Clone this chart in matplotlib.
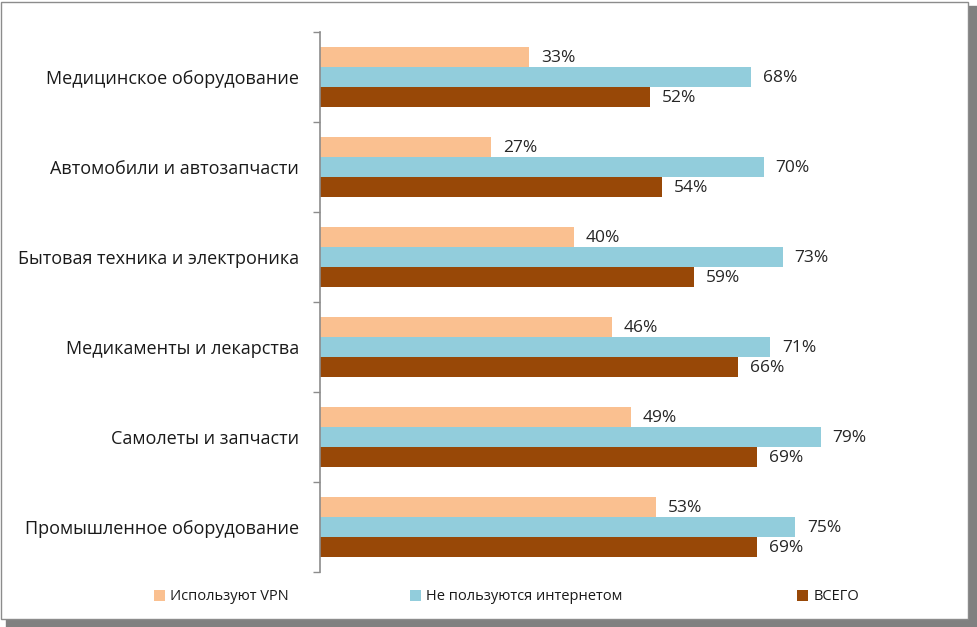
import matplotlib.pyplot as plt
import matplotlib.patches as mpatches
import numpy as np

plt.rcParams['font.family'] = ['Open Sans', 'DejaVu Sans']

categories = ['Медицинское оборудование', 'Автомобили и автозапчасти',
              'Бытовая техника и электроника', 'Медикаменты и лекарства',
              'Самолеты и запчасти', 'Промышленное оборудование']
vpn = [33, 27, 40, 46, 49, 53]
no_internet = [68, 70, 73, 71, 79, 75]
total = [52, 54, 59, 66, 69, 69]
series_names = ['Используют VPN', 'Не пользуются интернетом', 'ВСЕГО']
colors = ['#FAC090', '#92CDDC', '#984807']

W, H = 977, 627
fig = plt.figure(figsize=(W / 100, H / 100), dpi=100)

# рамка с тенью
fig.patches.append(mpatches.Rectangle((6 / W, 0), 1 - 6 / W, 1 - 6 / H,
                                      transform=fig.transFigure, color='#808080', zorder=-2))
fig.patches.append(mpatches.Rectangle((1 / W, 8 / H), 1 - 10 / W, 1 - 10 / H,
                                      transform=fig.transFigure, facecolor='white',
                                      edgecolor='#8c8c8c', linewidth=1, zorder=-1))

ax = fig.add_axes([320 / W, 1 - 572 / H, 637 / W, 540 / H])
ax.set_facecolor('none')

y = np.arange(len(categories))
h = 0.222
bars = []
for i, (vals, col) in enumerate(zip([vpn, no_internet, total], colors)):
    b = ax.barh(y + (i - 1) * h, vals, height=h, color=col, label=series_names[i])
    bars.append(b)
    for rect, v in zip(b, vals):
        ax.annotate(f'{v}%', (rect.get_width(), rect.get_y() + rect.get_height() / 2),
                    xytext=(8.5, -0.5), textcoords='offset points', va='center', ha='left',
                    fontsize=12.5, color='#262626')

ax.set_xlim(0, 100.5)
ax.set_ylim(len(categories) - 0.5, -0.5)
ax.set_yticks(np.arange(len(categories) + 1) - 0.5)
ax.set_yticklabels([])
ax.set_yticks(y, minor=True)
ax.set_yticklabels(categories, minor=True, fontsize=13, color='#1a1a1a')
ax.tick_params(axis='y', which='minor', length=0, pad=15)
ax.tick_params(axis='y', which='major', length=5, color='#8c8c8c', width=1)
ax.set_xticks([])
for s in ['top', 'right', 'bottom']:
    ax.spines[s].set_visible(False)
ax.spines['left'].set_color('#8c8c8c')
ax.spines['left'].set_linewidth(1.2)

# легенда: три отдельных элемента, как в Excel
leg_x = [147, 403, 790]
for b, name, x in zip(bars, series_names, leg_x):
    lg = fig.legend([b], [name], loc='center left', bbox_to_anchor=(x / W, 1 - 597 / H),
                    frameon=False, handlelength=0.7, handleheight=0.7, handletextpad=0.4,
                    fontsize=10.5, borderpad=0)
    for t in lg.get_texts():
        t.set_color('#1a1a1a')

fig.savefig('out.png', dpi=100)
